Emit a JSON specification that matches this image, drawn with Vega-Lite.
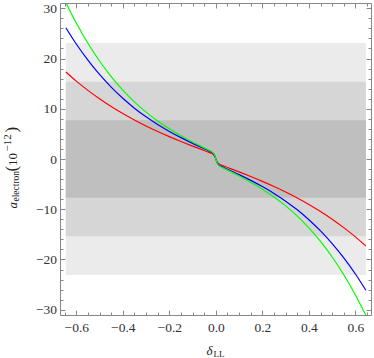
{
  "$schema": "https://vega.github.io/schema/vega-lite/v6.json",
  "width": 311,
  "height": 312,
  "autosize": "none",
  "padding": {"left": 60, "top": 3, "right": 3, "bottom": 43},
  "background": "white",
  "config": {
    "view": {"stroke": null},
    "axis": {
      "grid": false,
      "labelFont": "Liberation Serif",
      "titleFont": "Liberation Serif",
      "titleFontWeight": "normal",
      "domainColor": "#888888",
      "tickColor": "#888888",
      "labelColor": "#333333",
      "titleColor": "#222222",
      "labelFlush": false,
      "labelOverlap": false
    }
  },
  "datasets": {
    "bands": [
      {"level": "3s", "lo": -23.1, "hi": 23.1},
      {"level": "2s", "lo": -15.4, "hi": 15.4},
      {"level": "1s", "lo": -7.7, "hi": 7.7}
    ],
    "curves": [
      {"d": -0.645, "a": 17.31, "c": "red"}, {"d": -0.6, "a": 15.5, "c": "red"}, {"d": -0.55, "a": 13.66, "c": "red"}, {"d": -0.5, "a": 11.98, "c": "red"}, {"d": -0.45, "a": 10.44, "c": "red"}, {"d": -0.4, "a": 9.04, "c": "red"}, {"d": -0.35, "a": 7.75, "c": "red"}, {"d": -0.3, "a": 6.57, "c": "red"}, {"d": -0.25, "a": 5.47, "c": "red"}, {"d": -0.2, "a": 4.45, "c": "red"}, {"d": -0.15, "a": 3.49, "c": "red"}, {"d": -0.1, "a": 2.57, "c": "red"}, {"d": -0.05, "a": 1.68, "c": "red"}, {"d": -0.03, "a": 1.32, "c": "red"}, {"d": -0.02, "a": 1.14, "c": "red"}, {"d": -0.01, "a": 0.85, "c": "red"}, {"d": -0.005, "a": 0.53, "c": "red"}, {"d": 0, "a": 0, "c": "red"}, {"d": 0.005, "a": -0.53, "c": "red"}, {"d": 0.01, "a": -0.85, "c": "red"}, {"d": 0.02, "a": -1.14, "c": "red"}, {"d": 0.03, "a": -1.32, "c": "red"}, {"d": 0.05, "a": -1.68, "c": "red"}, {"d": 0.1, "a": -2.57, "c": "red"}, {"d": 0.15, "a": -3.49, "c": "red"}, {"d": 0.2, "a": -4.45, "c": "red"}, {"d": 0.25, "a": -5.47, "c": "red"}, {"d": 0.3, "a": -6.57, "c": "red"}, {"d": 0.35, "a": -7.75, "c": "red"}, {"d": 0.4, "a": -9.04, "c": "red"}, {"d": 0.45, "a": -10.44, "c": "red"}, {"d": 0.5, "a": -11.98, "c": "red"}, {"d": 0.55, "a": -13.66, "c": "red"}, {"d": 0.6, "a": -15.5, "c": "red"}, {"d": 0.645, "a": -17.31, "c": "red"},
      {"d": -0.645, "a": 26.12, "c": "blue"}, {"d": -0.6, "a": 22.89, "c": "blue"}, {"d": -0.55, "a": 19.68, "c": "blue"}, {"d": -0.5, "a": 16.83, "c": "blue"}, {"d": -0.45, "a": 14.31, "c": "blue"}, {"d": -0.4, "a": 12.08, "c": "blue"}, {"d": -0.35, "a": 10.12, "c": "blue"}, {"d": -0.3, "a": 8.39, "c": "blue"}, {"d": -0.25, "a": 6.86, "c": "blue"}, {"d": -0.2, "a": 5.49, "c": "blue"}, {"d": -0.15, "a": 4.25, "c": "blue"}, {"d": -0.1, "a": 3.11, "c": "blue"}, {"d": -0.05, "a": 2.04, "c": "blue"}, {"d": -0.03, "a": 1.62, "c": "blue"}, {"d": -0.02, "a": 1.4, "c": "blue"}, {"d": -0.01, "a": 1.05, "c": "blue"}, {"d": -0.005, "a": 0.66, "c": "blue"}, {"d": 0, "a": 0, "c": "blue"}, {"d": 0.005, "a": -0.66, "c": "blue"}, {"d": 0.01, "a": -1.05, "c": "blue"}, {"d": 0.02, "a": -1.4, "c": "blue"}, {"d": 0.03, "a": -1.62, "c": "blue"}, {"d": 0.05, "a": -2.04, "c": "blue"}, {"d": 0.1, "a": -3.11, "c": "blue"}, {"d": 0.15, "a": -4.25, "c": "blue"}, {"d": 0.2, "a": -5.49, "c": "blue"}, {"d": 0.25, "a": -6.86, "c": "blue"}, {"d": 0.3, "a": -8.39, "c": "blue"}, {"d": 0.35, "a": -10.12, "c": "blue"}, {"d": 0.4, "a": -12.08, "c": "blue"}, {"d": 0.45, "a": -14.31, "c": "blue"}, {"d": 0.5, "a": -16.83, "c": "blue"}, {"d": 0.55, "a": -19.68, "c": "blue"}, {"d": 0.6, "a": -22.89, "c": "blue"}, {"d": 0.645, "a": -26.12, "c": "blue"},
      {"d": -0.645, "a": 31.12, "c": "green"}, {"d": -0.6, "a": 27.06, "c": "green"}, {"d": -0.55, "a": 23.04, "c": "green"}, {"d": -0.5, "a": 19.51, "c": "green"}, {"d": -0.45, "a": 16.42, "c": "green"}, {"d": -0.4, "a": 13.72, "c": "green"}, {"d": -0.35, "a": 11.37, "c": "green"}, {"d": -0.3, "a": 9.33, "c": "green"}, {"d": -0.25, "a": 7.56, "c": "green"}, {"d": -0.2, "a": 6.0, "c": "green"}, {"d": -0.15, "a": 4.62, "c": "green"}, {"d": -0.1, "a": 3.38, "c": "green"}, {"d": -0.05, "a": 2.22, "c": "green"}, {"d": -0.03, "a": 1.77, "c": "green"}, {"d": -0.02, "a": 1.53, "c": "green"}, {"d": -0.01, "a": 1.15, "c": "green"}, {"d": -0.005, "a": 0.72, "c": "green"}, {"d": 0, "a": 0, "c": "green"}, {"d": 0.005, "a": -0.72, "c": "green"}, {"d": 0.01, "a": -1.15, "c": "green"}, {"d": 0.02, "a": -1.53, "c": "green"}, {"d": 0.03, "a": -1.77, "c": "green"}, {"d": 0.05, "a": -2.22, "c": "green"}, {"d": 0.1, "a": -3.38, "c": "green"}, {"d": 0.15, "a": -4.62, "c": "green"}, {"d": 0.2, "a": -6.0, "c": "green"}, {"d": 0.25, "a": -7.56, "c": "green"}, {"d": 0.3, "a": -9.33, "c": "green"}, {"d": 0.35, "a": -11.37, "c": "green"}, {"d": 0.4, "a": -13.72, "c": "green"}, {"d": 0.45, "a": -16.42, "c": "green"}, {"d": 0.5, "a": -19.51, "c": "green"}, {"d": 0.55, "a": -23.04, "c": "green"}, {"d": 0.6, "a": -27.06, "c": "green"}, {"d": 0.645, "a": -31.12, "c": "green"}
    ]
  },
  "layer": [
    {
      "data": {"name": "bands"},
      "mark": {"type": "rect", "strokeWidth": 0},
      "encoding": {
        "x": {"datum": -0.645, "type": "quantitative", "scale": {"domain": [-0.67, 0.667], "nice": false, "zero": false},
          "axis": {"orient": "bottom", "values": [-0.6, -0.4, -0.2, 0, 0.2, 0.4, 0.6], "format": ".1f", "ticks": false, "labelPadding": 16, "labelBaseline": "alphabetic", "labelFontSize": 13.5, "domain": true,
            "title": "δ", "titleFontStyle": "italic", "titleFontSize": 13, "titleX": 146, "titleY": 39.5, "titleAlign": "left", "titleBaseline": "alphabetic", "titleAngle": 0}},
        "x2": {"datum": 0.645},
        "y": {"field": "lo", "type": "quantitative", "scale": {"domain": [-31.05, 31.05], "nice": false, "zero": false},
          "axis": {"orient": "left", "values": [-30, -20, -10, 0, 10, 20, 30], "format": "d", "ticks": false, "labelPadding": 3.5, "labelFontSize": 13.5, "domain": true,
            "title": "a", "titleFontStyle": "italic", "titleFontSize": 13, "titleAngle": 270, "titleX": -44, "titleY": 205, "titleAlign": "left", "titleBaseline": "alphabetic"}},
        "y2": {"field": "hi"},
        "color": {"field": "level", "type": "nominal", "scale": {"domain": ["3s", "2s", "1s"], "range": ["#ebebeb", "#d6d6d6", "#bfbfbf"]}, "legend": null}
      }
    },
    {
      "data": {"name": "curves"},
      "mark": {"type": "line", "strokeWidth": 1.2, "interpolate": "monotone", "clip": true},
      "encoding": {
        "x": {"field": "d", "type": "quantitative", "scale": {"domain": [-0.67, 0.667], "nice": false, "zero": false},
          "axis": {"orient": "bottom", "values": [-0.6, -0.4, -0.2, 0, 0.2, 0.4, 0.6], "labels": false, "domain": false, "tickSize": -5, "zindex": 1,
            "title": "LL", "titleFontSize": 9, "titleX": 153, "titleY": 41.3, "titleAlign": "left", "titleBaseline": "alphabetic", "titleAngle": 0}},
        "y": {"field": "a", "type": "quantitative", "scale": {"domain": [-31.05, 31.05], "nice": false, "zero": false},
          "axis": {"orient": "left", "values": [-30, -20, -10, 0, 10, 20, 30], "labels": false, "domain": false, "tickSize": -5, "zindex": 1,
            "title": "electron", "titleFontSize": 9.5, "titleAngle": 270, "titleX": -41.5, "titleY": 198, "titleAlign": "left", "titleBaseline": "alphabetic"}},
        "color": {"field": "c", "type": "nominal", "scale": {"domain": ["red", "blue", "green"], "range": ["#ff0000", "#0000ff", "#00ff00"]}, "legend": null}
      }
    },
    {
      "data": {"name": "curves"},
      "mark": {"type": "point", "opacity": 0},
      "encoding": {
        "x": {"field": "d", "type": "quantitative", "scale": {"domain": [-0.67, 0.667], "nice": false, "zero": false},
          "axis": {"orient": "bottom", "values": [-0.65, -0.55, -0.5, -0.45, -0.35, -0.3, -0.25, -0.15, -0.1, -0.05, 0.05, 0.1, 0.15, 0.25, 0.3, 0.35, 0.45, 0.5, 0.55, 0.65], "labels": false, "domain": false, "tickSize": -3, "zindex": 1, "title": null}},
        "y": {"field": "a", "type": "quantitative", "scale": {"domain": [-31.05, 31.05], "nice": false, "zero": false},
          "axis": {"orient": "left", "values": [-28, -26, -24, -22, -18, -16, -14, -12, -8, -6, -4, -2, 2, 4, 6, 8, 12, 14, 16, 18, 22, 24, 26, 28], "labels": false, "domain": false, "tickSize": -3, "zindex": 1,
            "title": "(", "titleFontSize": 17, "titleAngle": 270, "titleX": -44, "titleY": 168, "titleAlign": "left", "titleBaseline": "alphabetic"}}
      }
    },
    {
      "data": {"name": "curves"},
      "mark": {"type": "point", "opacity": 0},
      "encoding": {
        "x": {"field": "d", "type": "quantitative", "scale": {"domain": [-0.67, 0.667], "nice": false, "zero": false},
          "axis": {"orient": "top", "values": [-0.6, -0.4, -0.2, 0, 0.2, 0.4, 0.6], "labels": false, "domain": true, "tickSize": -5, "zindex": 1, "title": null}},
        "y": {"field": "a", "type": "quantitative", "scale": {"domain": [-31.05, 31.05], "nice": false, "zero": false},
          "axis": {"orient": "right", "values": [-30, -20, -10, 0, 10, 20, 30], "labels": false, "domain": true, "tickSize": -5, "zindex": 1, "title": null}}
      }
    },
    {
      "data": {"name": "curves"},
      "mark": {"type": "point", "opacity": 0},
      "encoding": {
        "x": {"field": "d", "type": "quantitative", "scale": {"domain": [-0.67, 0.667], "nice": false, "zero": false},
          "axis": {"orient": "top", "values": [-0.65, -0.55, -0.5, -0.45, -0.35, -0.3, -0.25, -0.15, -0.1, -0.05, 0.05, 0.1, 0.15, 0.25, 0.3, 0.35, 0.45, 0.5, 0.55, 0.65], "labels": false, "domain": false, "tickSize": -3, "zindex": 1, "title": null}},
        "y": {"field": "a", "type": "quantitative", "scale": {"domain": [-31.05, 31.05], "nice": false, "zero": false},
          "axis": {"orient": "right", "values": [-28, -26, -24, -22, -18, -16, -14, -12, -8, -6, -4, -2, 2, 4, 6, 8, 12, 14, 16, 18, 22, 24, 26, 28], "labels": false, "domain": false, "tickSize": -3, "zindex": 1, "title": null}}
      }
    },
    {
      "data": {"name": "curves"},
      "mark": {"type": "point", "opacity": 0},
      "encoding": {
        "x": {"field": "d", "type": "quantitative", "scale": {"domain": [-0.67, 0.667], "nice": false, "zero": false}, "axis": null},
        "y": {"field": "a", "type": "quantitative", "scale": {"domain": [-31.05, 31.05], "nice": false, "zero": false},
          "axis": {"orient": "left", "ticks": false, "labels": false, "domain": false,
            "title": "10", "titleFontSize": 13, "titleAngle": 270, "titleX": -44, "titleY": 162.5, "titleAlign": "left", "titleBaseline": "alphabetic"}}
      }
    },
    {
      "data": {"name": "curves"},
      "mark": {"type": "point", "opacity": 0},
      "encoding": {
        "x": {"field": "d", "type": "quantitative", "scale": {"domain": [-0.67, 0.667], "nice": false, "zero": false}, "axis": null},
        "y": {"field": "a", "type": "quantitative", "scale": {"domain": [-31.05, 31.05], "nice": false, "zero": false},
          "axis": {"orient": "left", "ticks": false, "labels": false, "domain": false,
            "title": "−12", "titleFontSize": 11, "titleAngle": 270, "titleX": -50, "titleY": 148, "titleAlign": "left", "titleBaseline": "alphabetic"}}
      }
    },
    {
      "data": {"name": "curves"},
      "mark": {"type": "point", "opacity": 0},
      "encoding": {
        "x": {"field": "d", "type": "quantitative", "scale": {"domain": [-0.67, 0.667], "nice": false, "zero": false}, "axis": null},
        "y": {"field": "a", "type": "quantitative", "scale": {"domain": [-31.05, 31.05], "nice": false, "zero": false},
          "axis": {"orient": "left", "ticks": false, "labels": false, "domain": false,
            "title": ")", "titleFontSize": 17, "titleAngle": 270, "titleX": -44, "titleY": 129, "titleAlign": "left", "titleBaseline": "alphabetic"}}
      }
    }
  ],
  "resolve": {"axis": {"x": "independent", "y": "independent"}, "scale": {"color": "independent"}}
}
